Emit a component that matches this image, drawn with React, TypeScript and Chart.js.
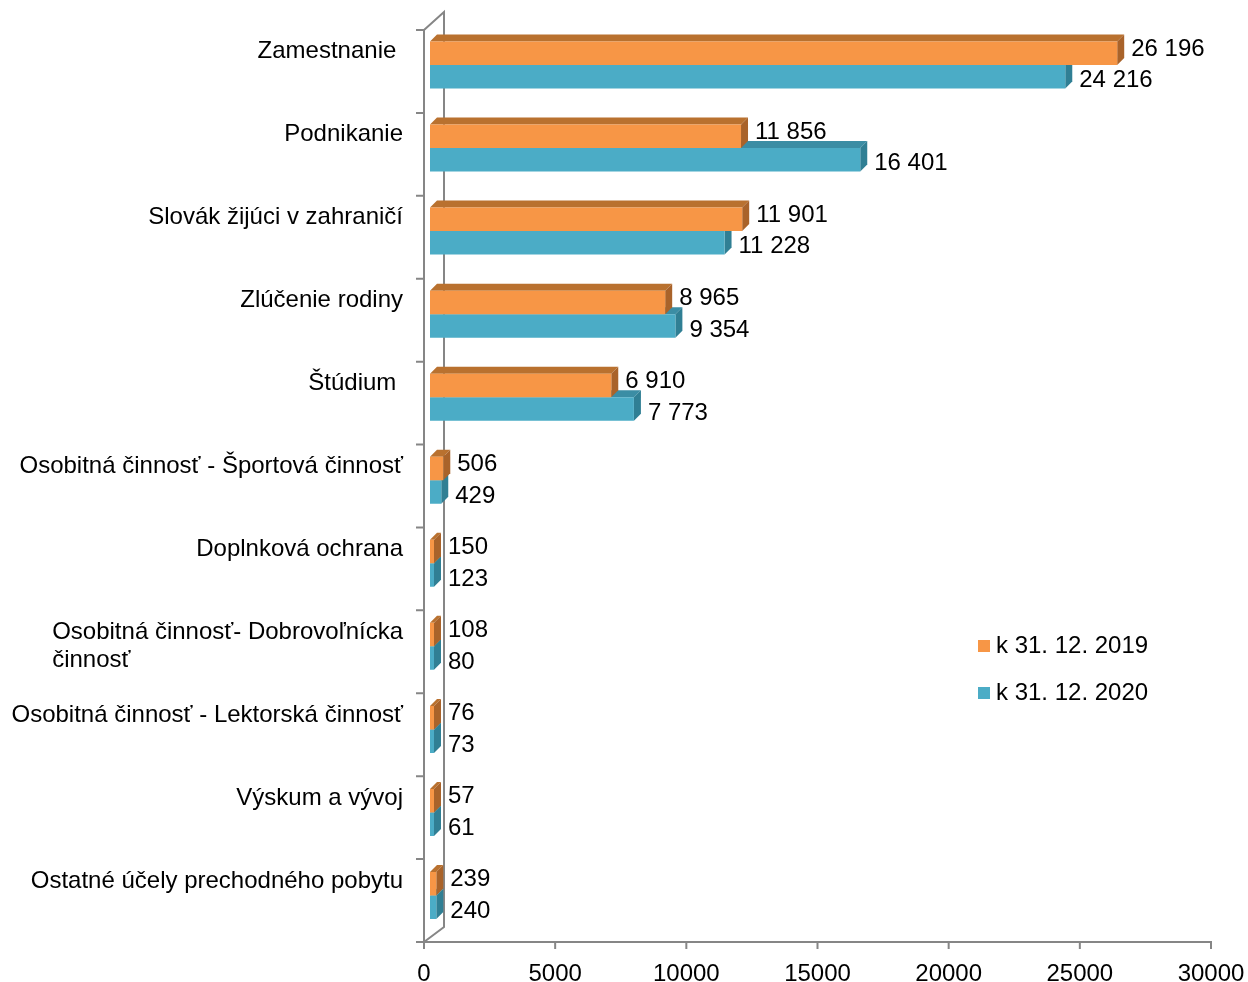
import React, { useEffect, useRef } from 'react';
import { Chart, registerables } from 'chart.js';

Chart.register(...registerables);

const CATEGORIES: (string | string[])[] = [
  'Zamestnanie ',
  'Podnikanie',
  'Slovák žijúci v zahraničí',
  'Zlúčenie rodiny',
  'Štúdium ',
  'Osobitná činnosť - Športová činnosť',
  'Doplnková ochrana',
  ['Osobitná činnosť- Dobrovoľnícka', 'činnosť'],
  'Osobitná činnosť - Lektorská činnosť',
  'Výskum a vývoj',
  'Ostatné účely prechodného pobytu',
];
const SERIES_2019 = [26196, 11856, 11901, 8965, 6910, 506, 150, 108, 76, 57, 239];
const SERIES_2020 = [24216, 16401, 11228, 9354, 7773, 429, 123, 80, 73, 61, 240];
const SERIES_NAMES = ['k 31. 12. 2019', 'k 31. 12. 2020'];
const X_TICKS = [0, 5000, 10000, 15000, 20000, 25000, 30000];

const FONT = '24px "Liberation Sans", Arial, sans-serif';
const GRAY = '#868686';
const DX = 7;
const DY = 7;
const FRONT = ['#F79646', '#4BACC6'];
const FACES = [
  { top: '#B9712F', side: '#A9632A' },
  { top: '#3B8DA4', side: '#307F94' },
];

const fmt = (v: number) => String(v).replace(/\B(?=(\d{3})+(?!\d))/g, ' ');

function poly(ctx: CanvasRenderingContext2D, pts: number[][]) {
  ctx.beginPath();
  ctx.moveTo(pts[0][0], pts[0][1]);
  for (let i = 1; i < pts.length; i++) ctx.lineTo(pts[i][0], pts[i][1]);
  ctx.closePath();
  ctx.fill();
}

const excelPlugin = {
  id: 'excel3d',
  beforeDatasetsDraw(chart: any) {
    const ctx: CanvasRenderingContext2D = chart.ctx;
    const ca = chart.chartArea;
    const xs = chart.scales.x;
    const n = CATEGORIES.length;
    const fTop = ca.top + 6.5;
    const fBot = ca.bottom + 5;
    const fLeft = xs.getPixelForValue(0) - 6;
    const band = (fBot - fTop) / n;
    ctx.save();
    ctx.strokeStyle = GRAY;
    ctx.lineWidth = 2;
    ctx.lineCap = 'butt';
    ctx.beginPath();
    ctx.moveTo(fLeft, fTop);
    ctx.lineTo(fLeft, fBot);
    ctx.moveTo(fLeft, fTop);
    ctx.lineTo(fLeft + 20, fTop - 18);
    ctx.lineTo(fLeft + 20, fBot - 15);
    ctx.lineTo(fLeft, fBot);
    ctx.moveTo(fLeft - 1, fBot);
    ctx.lineTo(xs.getPixelForValue(30000) - 6 + 1, fBot);
    ctx.stroke();
    ctx.beginPath();
    for (let i = 0; i <= n; i++) {
      const y = fTop + band * i;
      ctx.moveTo(fLeft - 8, y);
      ctx.lineTo(fLeft, y);
    }
    X_TICKS.forEach((v) => {
      const x = xs.getPixelForValue(v) - 6;
      ctx.moveTo(x, fBot);
      ctx.lineTo(x, fBot + 7);
    });
    ctx.stroke();

    for (const di of [1, 0]) {
      const meta = chart.getDatasetMeta(di);
      meta.data.forEach((bar: any) => {
        const p = bar.getProps(['x', 'y', 'base', 'height'], true);
        const top = p.y - p.height / 2;
        const bot = p.y + p.height / 2;
        ctx.fillStyle = FACES[di].top;
        poly(ctx, [[p.base, top], [p.x, top], [p.x + DX, top - DY], [p.base + DX, top - DY]]);
        ctx.fillStyle = FACES[di].side;
        poly(ctx, [[p.x, top], [p.x + DX, top - DY], [p.x + DX, bot - DY], [p.x, bot]]);
      });
    }
    ctx.restore();
  },
  afterDatasetsDraw(chart: any) {
    const ctx: CanvasRenderingContext2D = chart.ctx;
    const ca = chart.chartArea;
    const xs = chart.scales.x;
    const ys = chart.scales.y;
    ctx.save();
    ctx.font = FONT;
    ctx.fillStyle = '#000';
    ctx.textBaseline = 'middle';

    [0, 1].forEach((di) => {
      const meta = chart.getDatasetMeta(di);
      const vals = di === 0 ? SERIES_2019 : SERIES_2020;
      meta.data.forEach((bar: any, i: number) => {
        const p = bar.getProps(['x', 'y'], true);
        ctx.textAlign = 'left';
        ctx.fillText(fmt(vals[i]), p.x + DX + 7, p.y + (di === 0 ? -4 : 4));
      });
    });

    const rightX = 403;
    CATEGORIES.forEach((lab, i) => {
      const yc = ys.getPixelForValue(i);
      const lines = Array.isArray(lab) ? lab : [lab];
      if (lines.length === 1) {
        ctx.textAlign = 'right';
        ctx.fillText(lines[0], rightX, yc - 14);
      } else {
        const w = Math.max(...lines.map((l) => ctx.measureText(l).width));
        const lh = 28;
        const y0 = yc - (lh * (lines.length - 1)) / 2;
        ctx.textAlign = 'left';
        lines.forEach((l, k) => ctx.fillText(l, rightX - w, y0 + k * lh));
      }
    });

    ctx.textAlign = 'center';
    X_TICKS.forEach((v) => {
      ctx.fillText(String(v), xs.getPixelForValue(v) - 6, ca.bottom + 37);
    });

    SERIES_NAMES.forEach((name, k) => {
      const y = 646 + k * 47;
      ctx.fillStyle = FRONT[k];
      ctx.fillRect(978, y - 6, 12, 12);
      ctx.fillStyle = '#000';
      ctx.textAlign = 'left';
      ctx.fillText(name, 996, y);
    });
    ctx.restore();
  },
};

export default function App() {
  const ref = useRef<HTMLCanvasElement | null>(null);
  useEffect(() => {
    document.body.style.margin = '0';
    const canvas = ref.current!;
    const chart = new Chart(canvas, {
      type: 'bar',
      data: {
        labels: CATEGORIES as any,
        datasets: [
          {
            label: SERIES_NAMES[0],
            data: SERIES_2019,
            backgroundColor: FRONT[0],
            borderWidth: 0,
            categoryPercentage: 0.566,
            barPercentage: 1,
            minBarLength: 4,
          },
          {
            label: SERIES_NAMES[1],
            data: SERIES_2020,
            backgroundColor: FRONT[1],
            borderWidth: 0,
            categoryPercentage: 0.566,
            barPercentage: 1,
            minBarLength: 4,
          },
        ],
      },
      options: {
        indexAxis: 'y',
        responsive: false,
        animation: false,
        devicePixelRatio: 1,
        layout: { padding: { left: 430, right: 31, top: 23.5, bottom: 45 } },
        plugins: { legend: { display: false }, tooltip: { enabled: false } },
        scales: {
          x: { display: false, min: 0, max: 30000 },
          y: { display: false },
        },
      },
      plugins: [excelPlugin],
    });
    return () => chart.destroy();
  }, []);
  return (
    <div style={{ position: 'absolute', left: 0, top: 0, width: 1248, height: 982, background: '#fff' }}>
      <canvas ref={ref} width={1248} height={982} style={{ width: 1248, height: 982 }} />
    </div>
  );
}
